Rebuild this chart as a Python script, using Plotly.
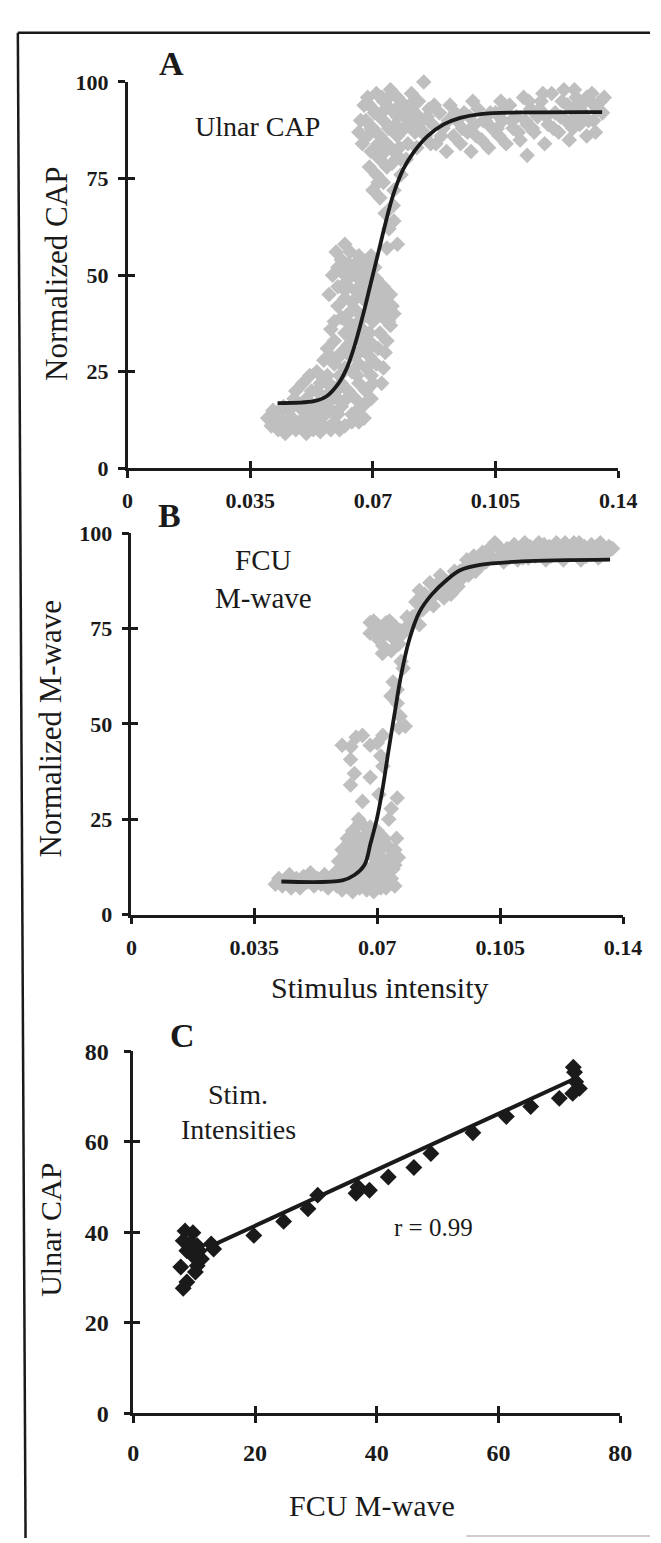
import plotly.graph_objects as go

# ---- data ----
stim_ticks = [0, 0.035, 0.07, 0.105, 0.14]
stim_ticktext = ["0", "0.035", "0.07", "0.105", "0.14"]
norm_ticks = [0, 25, 50, 75, 100]
c_ticks = [0, 20, 40, 60, 80]

# panel A: ulnar CAP vs stimulus intensity (gray cloud)
a_points = [
    (0.040, 13), (0.041, 11), (0.043, 10), (0.043, 14), (0.044, 12), (0.045, 9), (0.046, 11), (0.046, 15),
    (0.047, 13), (0.048, 10), (0.048, 17), (0.048, 20), (0.049, 12), (0.050, 15), (0.050, 22), (0.051, 9),
    (0.051, 11), (0.051, 18), (0.052, 13), (0.052, 24), (0.053, 16), (0.053, 10), (0.054, 20), (0.054, 12),
    (0.054, 25), (0.055, 14), (0.055, 22), (0.056, 17), (0.056, 11), (0.056, 28), (0.057, 19), (0.057, 24),
    (0.057, 31), (0.058, 15), (0.058, 21), (0.058, 10), (0.059, 12), (0.059, 27), (0.060, 18), (0.060, 14),
    (0.0445, 16), (0.0465, 13), (0.0475, 18), (0.0495, 16), (0.0515, 14), (0.0525, 20), (0.0535, 13),
    (0.0545, 17), (0.0565, 14), (0.0575, 22), (0.0585, 18), (0.0605, 29), (0.0415, 15), (0.042, 12),
    (0.055, 9.5), (0.062, 11), (0.0605, 10),
    (0.058, 29), (0.059, 33), (0.059, 38), (0.060, 42), (0.060, 47), (0.060, 52), (0.061, 39), (0.061, 54),
    (0.058, 36), (0.061, 22), (0.061, 30), (0.061, 16), (0.062, 26), (0.062, 35), (0.062, 44), (0.062, 50),
    (0.062, 58), (0.063, 20), (0.063, 32), (0.063, 40), (0.063, 47), (0.063, 53), (0.064, 14), (0.064, 25),
    (0.064, 37), (0.064, 43), (0.064, 50), (0.065, 18), (0.065, 29), (0.065, 34), (0.065, 41), (0.065, 46),
    (0.065, 53), (0.066, 22), (0.066, 27), (0.066, 38), (0.066, 49), (0.066, 55), (0.067, 16), (0.067, 31),
    (0.067, 36), (0.067, 44), (0.067, 51), (0.068, 20), (0.068, 26), (0.068, 40), (0.068, 47), (0.068, 53),
    (0.069, 29), (0.069, 35), (0.069, 43), (0.069, 50), (0.070, 22), (0.070, 32), (0.070, 38), (0.070, 46),
    (0.071, 27), (0.071, 41), (0.071, 49), (0.072, 35), (0.072, 44), (0.073, 26), (0.073, 39), (0.073, 47),
    (0.074, 33), (0.074, 42), (0.075, 37), (0.075, 45), (0.076, 40), (0.066, 12), (0.068, 17), (0.064, 12),
    (0.0575, 45), (0.0585, 50), (0.0595, 56), (0.061, 47), (0.0625, 38), (0.0635, 29), (0.0655, 24),
    (0.0665, 33), (0.0675, 48), (0.0685, 33), (0.0695, 24), (0.0705, 42), (0.0715, 31), (0.0725, 40),
    (0.0735, 30), (0.0745, 38), (0.0755, 42), (0.0725, 22), (0.0695, 18), (0.0675, 13), (0.0655, 15),
    (0.0625, 18), (0.0605, 24), (0.0595, 20), (0.0635, 56), (0.0655, 50), (0.0705, 52), (0.0695, 55),
    (0.077, 58), (0.0746, 62), (0.0735, 66), (0.0758, 68), (0.074, 57), (0.076, 64),
    (0.066, 87), (0.067, 84), (0.068, 90), (0.069, 78), (0.069, 94), (0.070, 72), (0.070, 82), (0.070, 88),
    (0.071, 76), (0.071, 92), (0.071, 97), (0.072, 70), (0.072, 80), (0.072, 86), (0.073, 74), (0.073, 90),
    (0.073, 95), (0.074, 78), (0.074, 84), (0.075, 88), (0.075, 93), (0.075, 98), (0.076, 72), (0.076, 82),
    (0.077, 86), (0.077, 91), (0.077, 96), (0.078, 76), (0.078, 80), (0.079, 88), (0.079, 94), (0.080, 84),
    (0.080, 90), (0.081, 97), (0.082, 92), (0.082, 87), (0.0845, 100), (0.083, 95), (0.084, 90), (0.085, 86),
    (0.086, 93), (0.087, 89),
    (0.0665, 90), (0.0675, 94), (0.0685, 86), (0.0695, 82), (0.0705, 92), (0.0715, 84), (0.0715, 74),
    (0.0725, 92), (0.0735, 82), (0.0745, 88), (0.0745, 96), (0.0755, 79), (0.0765, 89), (0.0775, 83),
    (0.0785, 92), (0.0795, 80), (0.0805, 94), (0.0815, 88), (0.0825, 83), (0.0835, 90), (0.0845, 87),
    (0.0855, 91), (0.0865, 84), (0.0875, 94), (0.0695, 88), (0.0685, 96), (0.0725, 96), (0.0765, 93),
    (0.088, 84), (0.089, 92), (0.090, 88), (0.091, 82), (0.092, 94), (0.093, 86),
    (0.094, 90), (0.095, 84), (0.096, 92), (0.097, 87), (0.098, 82), (0.099, 89), (0.100, 93), (0.101, 85),
    (0.102, 90), (0.103, 83), (0.104, 88), (0.105, 92), (0.106, 86), (0.107, 90), (0.108, 84), (0.109, 94),
    (0.110, 88), (0.111, 91), (0.112, 85), (0.113, 96), (0.114, 81), (0.114, 89), (0.115, 93), (0.116, 87),
    (0.117, 91), (0.118, 95), (0.119, 84), (0.120, 89), (0.121, 97), (0.122, 92), (0.123, 87), (0.124, 95),
    (0.125, 90), (0.126, 85), (0.127, 93), (0.128, 96), (0.129, 89), (0.130, 92), (0.131, 86), (0.132, 95),
    (0.133, 90), (0.134, 93), (0.135, 95), (0.136, 96), (0.127, 88), (0.131, 96),
    (0.0895, 86), (0.0915, 90), (0.0935, 92), (0.0955, 88), (0.0975, 91), (0.0995, 86), (0.1015, 90),
    (0.1035, 92), (0.1055, 88), (0.1075, 93), (0.1095, 90), (0.1115, 87), (0.1135, 90), (0.1155, 88),
    (0.1175, 93), (0.1195, 91), (0.1215, 88), (0.1235, 91), (0.1255, 94), (0.1275, 91), (0.1295, 94),
    (0.1315, 90), (0.1335, 87), (0.1355, 92), (0.1245, 98), (0.1185, 97), (0.1275, 98), (0.1325, 97),
    (0.1145, 95), (0.1065, 95), (0.0985, 95),
]
a_fit_x = [0.0428, 0.0532, 0.0567, 0.0602, 0.0625, 0.0648, 0.0671, 0.0694, 0.0717, 0.0735,
           0.0758, 0.0787, 0.0816, 0.0856, 0.0902, 0.0949, 0.1007, 0.1122, 0.1354]
a_fit_y = [16.9, 17.4, 18.6, 22.0, 25.8, 31.8, 39.4, 47.9, 56.4, 63.1,
           70.8, 77.5, 81.8, 86.0, 89.0, 90.7, 91.7, 92.1, 92.2]

# panel B: FCU M-wave vs stimulus intensity
b_points = [
    (0.041, 8), (0.042, 9.5), (0.043, 7.5), (0.044, 9), (0.045, 10.5), (0.046, 8), (0.047, 9.5), (0.048, 7),
    (0.049, 10), (0.050, 8.5), (0.051, 11), (0.052, 7.5), (0.053, 9.5), (0.054, 8), (0.055, 10.5), (0.056, 7),
    (0.057, 9), (0.058, 11), (0.059, 8), (0.060, 6.5), (0.061, 10), (0.062, 8), (0.063, 6), (0.064, 9),
    (0.065, 7), (0.066, 10), (0.067, 6.5), (0.068, 8.5), (0.069, 6), (0.070, 9), (0.071, 7), (0.072, 10),
    (0.073, 8), (0.074, 9.5), (0.075, 7.5),
    (0.0455, 7), (0.0505, 10), (0.0545, 9.5), (0.0585, 7.5), (0.0625, 11), (0.0645, 7.5), (0.0685, 11),
    (0.0705, 12), (0.0725, 7), (0.0745, 12),
    (0.059, 14), (0.060, 17), (0.061, 12), (0.062, 15), (0.062, 19), (0.063, 22), (0.064, 13), (0.064, 17),
    (0.065, 20), (0.065, 24), (0.066, 15), (0.066, 18), (0.067, 12), (0.067, 21), (0.068, 16), (0.068, 23),
    (0.069, 13), (0.069, 19), (0.070, 15), (0.070, 22), (0.071, 11), (0.071, 17), (0.072, 14), (0.072, 20),
    (0.073, 12), (0.073, 18), (0.074, 15), (0.075, 13), (0.075, 17), (0.076, 15),
    (0.0615, 20), (0.0635, 17), (0.0655, 13), (0.0675, 18), (0.0695, 22), (0.0715, 20), (0.0735, 15),
    (0.0755, 20), (0.0665, 23), (0.0685, 20),
    (0.060, 44.4), (0.0624, 40.7), (0.0658, 47), (0.068, 44.4), (0.0716, 47), (0.0762, 49), (0.078, 49.4),
    (0.0635, 37), (0.068, 36), (0.0624, 34), (0.0658, 29.7), (0.0705, 31.5), (0.0757, 30.6), (0.074, 27.8),
    (0.0733, 25), (0.0647, 25), (0.0716, 38.9), (0.071, 41.6), (0.0625, 44), (0.064, 46.5), (0.070, 45),
    (0.0739, 57.3), (0.0757, 59), (0.0745, 61), (0.0768, 66.4), (0.0774, 64.6), (0.0757, 55.4), (0.0765, 52),
    (0.068, 76.6), (0.0705, 75.6), (0.0728, 73.8), (0.075, 75.6), (0.0774, 73.8), (0.0705, 72), (0.074, 69.2),
    (0.068, 73.8), (0.0716, 70.5), (0.0762, 71), (0.069, 77), (0.0735, 77), (0.079, 76),
    (0.0695, 74), (0.0725, 76.5), (0.0745, 72.5), (0.0765, 74.5), (0.0785, 78), (0.0715, 68.5),
    (0.080, 78), (0.081, 82), (0.082, 76), (0.082, 85), (0.083, 80), (0.084, 83), (0.085, 87), (0.086, 81),
    (0.087, 85), (0.088, 89), (0.089, 83), (0.090, 87), (0.091, 84), (0.092, 90), (0.093, 86), (0.094, 88),
    (0.095, 91), (0.096, 89), (0.097, 92), (0.098, 90), (0.099, 93),
    (0.0815, 79), (0.0835, 84), (0.0855, 83), (0.0875, 87), (0.0895, 86), (0.0915, 88), (0.0935, 90),
    (0.0955, 93), (0.0975, 94), (0.0995, 91.5),
    (0.100, 95), (0.101, 92.5), (0.102, 96), (0.103, 93.5), (0.104, 97), (0.105, 94), (0.106, 92.5),
    (0.107, 96), (0.108, 94), (0.109, 97), (0.110, 93), (0.111, 95.5), (0.112, 97.5), (0.113, 93.5),
    (0.114, 96), (0.115, 94), (0.116, 97.5), (0.117, 95), (0.118, 93), (0.119, 96.5), (0.120, 94.5),
    (0.121, 97.5), (0.122, 95), (0.123, 93), (0.124, 96.5), (0.125, 94.5), (0.126, 97.5), (0.127, 95),
    (0.128, 93), (0.129, 96.5), (0.130, 94.5), (0.131, 97), (0.132, 95), (0.133, 93.5), (0.134, 96),
    (0.135, 94.5), (0.136, 96.5),
    (0.1015, 95.5), (0.1035, 97.5), (0.1055, 95.5), (0.1075, 93.5), (0.1095, 95), (0.1115, 93.5),
    (0.1135, 96.5), (0.1155, 95.5), (0.1175, 97), (0.1195, 94), (0.1215, 95.5), (0.1235, 97.5),
    (0.1255, 95.5), (0.1275, 97.5), (0.1295, 94), (0.1315, 95.5), (0.1335, 97.5), (0.1355, 95), (0.137, 96),
]
b_fit_x = [0.0427, 0.0601, 0.0635, 0.0664, 0.0681, 0.0699, 0.0716, 0.0733, 0.0751, 0.0768,
           0.0791, 0.0820, 0.0855, 0.0901, 0.0936, 0.0993, 0.1109, 0.1363]
b_fit_y = [8.7, 9.0, 10.4, 13.1, 18.7, 25.1, 33.4, 43.5, 53.6, 62.8,
           72.0, 79.3, 83.9, 88.0, 90.3, 91.7, 92.6, 93.1]

# panel C: ulnar CAP vs FCU M-wave at matched stimulus intensities
c_mwave = [8.5, 9.8, 8.2, 9.5, 10.5, 10.8, 8.8, 9.8, 11.2, 7.8, 10.5, 10.2, 8.8, 8.2, 12.8, 13.2,
           19.8, 24.7, 28.7, 30.3, 36.6, 36.9, 38.8, 41.9, 46.1, 48.9, 55.8, 61.3, 65.3, 70.0,
           72.3, 72.5, 72.2, 73.3, 72.7]
c_cap = [40.3, 39.9, 38.1, 37.7, 37.0, 35.9, 35.9, 34.8, 34.1, 32.3, 32.6, 31.2, 29.0, 27.6, 37.4, 36.3,
         39.3, 42.4, 45.2, 48.2, 48.6, 50.0, 49.3, 52.2, 54.3, 57.4, 62.0, 65.6, 67.8, 69.6,
         76.5, 75.4, 70.7, 71.8, 73.3]
c_fit_x = [12.2, 72.0]
c_fit_y = [36.6, 73.6]

# ---- layout helpers (pixel positions in the 661x1543 page) ----
W, H = 661, 1543
SERIF = "Liberation Serif, Times New Roman, serif"
INK = "#1a1a1a"
GRAY = "#bfbfbf"


def xdom(left, right):
    return [left / W, right / W]


def ydom(top, bottom):
    return [1 - bottom / H, 1 - top / H]


fig = go.Figure()

fig.add_trace(go.Scatter(x=[p[0] for p in a_points], y=[p[1] for p in a_points], mode="markers",
                         marker=dict(symbol="diamond", size=12, color=GRAY, line_width=0),
                         cliponaxis=False, xaxis="x", yaxis="y"))
fig.add_trace(go.Scatter(x=a_fit_x, y=a_fit_y, mode="lines", line=dict(color=INK, width=3.8, shape="spline"),
                         cliponaxis=False, xaxis="x", yaxis="y"))
fig.add_trace(go.Scatter(x=[p[0] for p in b_points], y=[p[1] for p in b_points], mode="markers",
                         marker=dict(symbol="diamond", size=12, color=GRAY, line_width=0),
                         cliponaxis=False, xaxis="x2", yaxis="y2"))
fig.add_trace(go.Scatter(x=b_fit_x, y=b_fit_y, mode="lines", line=dict(color=INK, width=3.8, shape="spline"),
                         cliponaxis=False, xaxis="x2", yaxis="y2"))
fig.add_trace(go.Scatter(x=c_fit_x, y=c_fit_y, mode="lines", line=dict(color=INK, width=4),
                         cliponaxis=False, xaxis="x3", yaxis="y3"))
fig.add_trace(go.Scatter(x=c_mwave, y=c_cap, mode="markers",
                         marker=dict(symbol="diamond", size=13, color=INK, line_width=0),
                         cliponaxis=False, xaxis="x3", yaxis="y3"))

# empty traces that carry the overlay axes (used for the inner half of the crossing ticks)
for n in (4, 5, 6):
    fig.add_trace(go.Scatter(x=[None], y=[None], mode="markers", xaxis=f"x{n}", yaxis=f"y{n}",
                             hoverinfo="skip"))

tick_font = dict(family=SERIF, size=22, color=INK, weight="bold")
axis_common = dict(showline=True, linewidth=2.5, linecolor=INK, ticks="outside", ticklen=7, tickwidth=2.5,
                   tickcolor=INK, showgrid=False, zeroline=False, tickmode="array", fixedrange=True)
inner_common = dict(showline=False, ticks="inside", ticklen=7, tickwidth=2.5, tickcolor=INK,
                    showgrid=False, zeroline=False, showticklabels=False, tickmode="array", fixedrange=True)

fig.update_layout(
    xaxis=dict(axis_common, domain=xdom(118, 628), range=[0, 0.14], anchor="y",
               tickvals=stim_ticks, ticktext=stim_ticktext, tickfont=tick_font, ticklabelstandoff=4),
    yaxis=dict(axis_common, domain=ydom(62, 455), range=[0, 100], anchor="x",
               tickvals=norm_ticks, ticktext=[str(v) for v in norm_ticks], tickfont=tick_font,
               ticklabelstandoff=5),
    xaxis2=dict(axis_common, domain=xdom(122, 633), range=[0, 0.14], anchor="y2",
                tickvals=stim_ticks, ticktext=stim_ticktext, tickfont=tick_font, ticklabelstandoff=4),
    yaxis2=dict(axis_common, domain=ydom(521, 909), range=[0, 100], anchor="x2",
                tickvals=norm_ticks, ticktext=[str(v) for v in norm_ticks], tickfont=tick_font,
                ticklabelstandoff=5),
    xaxis3=dict(axis_common, domain=xdom(124, 630), range=[0, 80], anchor="y3",
                tickvals=c_ticks, ticktext=[str(v) for v in c_ticks],
                tickfont=dict(tick_font, size=24), ticklabelstandoff=9),
    yaxis3=dict(axis_common, domain=ydom(1048, 1416), range=[0, 80], anchor="x3",
                tickvals=c_ticks, ticktext=[str(v) for v in c_ticks],
                tickfont=dict(tick_font, size=24), ticklabelstandoff=10),
    xaxis4=dict(inner_common, overlaying="x", anchor="y", range=[0, 0.14], tickvals=stim_ticks),
    yaxis4=dict(inner_common, overlaying="y", anchor="x", range=[0, 100], tickvals=norm_ticks),
    xaxis5=dict(inner_common, overlaying="x2", anchor="y2", range=[0, 0.14], tickvals=stim_ticks),
    yaxis5=dict(inner_common, overlaying="y2", anchor="x2", range=[0, 100], tickvals=norm_ticks),
    xaxis6=dict(inner_common, overlaying="x3", anchor="y3", range=[0, 80], tickvals=c_ticks),
    yaxis6=dict(inner_common, overlaying="y3", anchor="x3", range=[0, 80], tickvals=c_ticks),
    width=W, height=H, margin=dict(l=0, r=0, t=0, b=0),
    paper_bgcolor="white", plot_bgcolor="white", showlegend=False,
)

# outer frame of the scanned figure
fig.add_shape(type="line", xref="paper", yref="paper", x0=4 / W, x1=1, y0=1 - 12 / H, y1=1 - 12 / H,
              line=dict(color=INK, width=2.5))
fig.add_shape(type="line", xref="paper", yref="paper", x0=4 / W, x1=12 / W, y0=1 - 12 / H, y1=0,
              line=dict(color=INK, width=2.5))
fig.add_shape(type="line", xref="paper", yref="paper", x0=470 / W, x1=1, y0=2 / H, y1=2 / H,
              line=dict(color="#cfcfcf", width=2))


def label(text, px, py, size, bold=False, angle=0):
    fig.add_annotation(text=text, x=px / W, y=1 - py / H, xref="paper", yref="paper",
                       showarrow=False, xanchor="center", yanchor="middle", textangle=angle,
                       font=dict(family=SERIF, size=size, color=INK, weight="bold" if bold else "normal"))


label("A", 164, 43, 34, bold=True)
label("B", 162, 503, 34, bold=True)
label("C", 175, 1032, 34, bold=True)
label("Ulnar CAP", 253, 107, 28)
label("FCU", 259, 548, 29)
label("M-wave", 259, 587, 29)
label("Stim.", 233, 1092, 28)
label("Intensities", 233, 1128, 28)
label("r = 0.99", 436, 1227, 25)
label("Normalized CAP", 44, 257, 31, angle=-90)
label("Normalized M-wave", 38, 720, 31, angle=-90)
label("Stimulus intensity", 380, 983, 30)
label("Ulnar CAP", 38, 1230, 30, angle=-90)
label("FCU M-wave", 372, 1510, 30)

fig.write_html("out.html")
